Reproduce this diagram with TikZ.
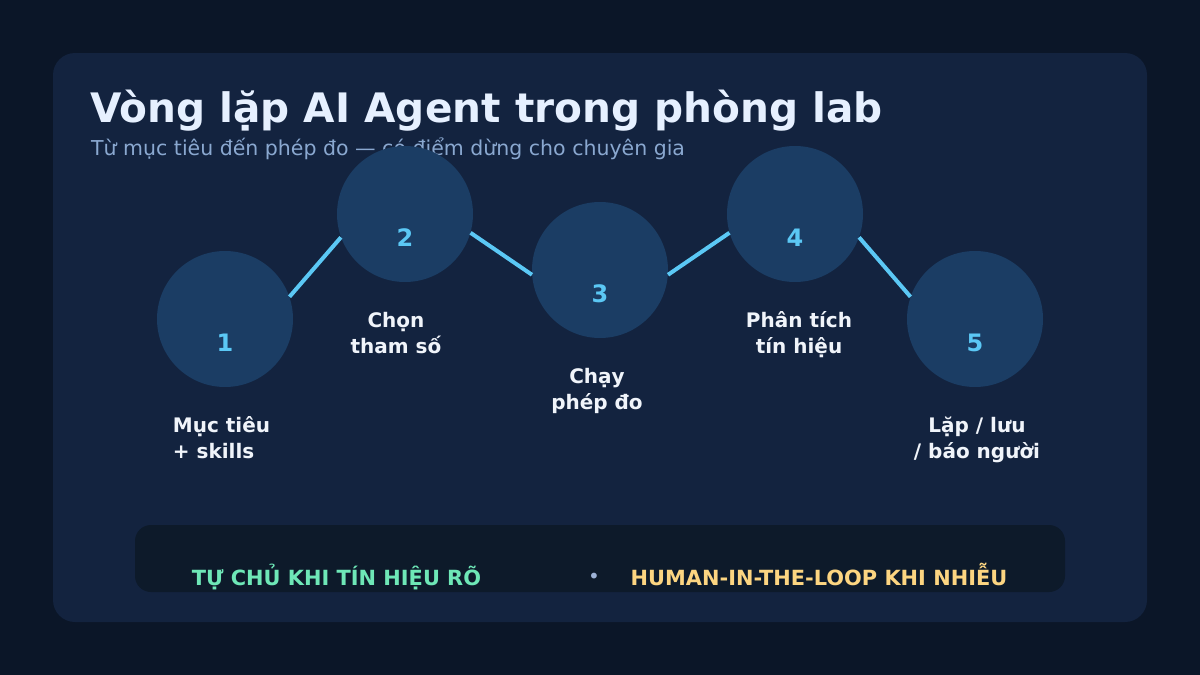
\documentclass[tikz,border=0pt]{standalone}
\usepackage{fontspec}
\setmainfont{DejaVu Sans}
\usetikzlibrary{positioning,calc}
\definecolor{bgD}{HTML}{0B1628}
\definecolor{panel}{HTML}{13233F}
\definecolor{circ}{HTML}{1B3D64}
\definecolor{cyanL}{HTML}{5BC8F5}
\definecolor{ttl}{HTML}{E6F0FF}
\definecolor{subt}{HTML}{8AA8D0}
\definecolor{labW}{HTML}{F0F4FA}
\definecolor{barD}{HTML}{0D1A2A}
\definecolor{grnT}{HTML}{6EE7B7}
\definecolor{ylwT}{HTML}{FCD581}
\definecolor{dotC}{HTML}{9DB2D6}
\tikzset{
  stepc/.style ={circle, fill=circ, minimum size=136pt, inner sep=0pt},
  num/.style   ={font=\bfseries\fontsize{24}{28}\selectfont, text=cyanL, inner sep=0pt},
  lbl/.style   ={font=\bfseries\fontsize{20}{26}\selectfont, text=labW, align=center, inner sep=0pt},
  link/.style  ={draw=cyanL, line width=4pt},
  tag/.style   ={font=\bfseries\fontsize{20.9}{24}\selectfont, anchor=base, inner sep=0pt},
}
\begin{document}
\begin{tikzpicture}[x=1pt,y=-1pt]
  \fill[bgD] (0,0) rectangle (1200,675);
  \useasboundingbox (0,0) rectangle (1200,675);
  \node[fill=panel, rounded corners=22pt, minimum width=1094pt, minimum height=569pt, inner sep=0pt] (pan) at (600,337.5) {};
  \node[anchor=base west, inner sep=0pt, text=ttl, font=\bfseries\fontsize{40.6}{46}\selectfont] (title) at (90,122) {Vòng lặp AI Agent trong phòng lab};
  \node[anchor=base west, inner sep=0pt, text=subt, font=\fontsize{20.5}{24}\selectfont] (sub) at (91,155) {Từ mục tiêu đến phép đo — có điểm dừng cho chuyên gia};
  % steps
  \foreach \i/\x/\y in {1/225/319, 2/405/214, 3/600/270, 4/795/214, 5/975/319} {
    \node[stepc] (c\i) at (\x,\y) {};
    \node[num] (n\i) at ($(c\i)+(0,24)$) {\i};
  }
  \draw[link] (c1.19) -- (c2.200);
  \draw[link] (c2.-16) -- (c3.184);
  \draw[link] (c3.-4) -- (c4.196);
  \draw[link] (c4.-20) -- (c5.161);
  \node[lbl, align=left] (l1) at ($(c1)+(-3.5,119)$) {Mục tiêu\\+ skills};
  \node[lbl] (l2) at ($(c2)+(-9,119)$) {Chọn\\tham số};
  \node[lbl] (l3) at ($(c3)+(-3,121)$) {Chạy\\phép đo};
  \node[lbl] (l4) at ($(c4)+(4,121)$) {Phân tích\\tín hiệu};
  \node[lbl] (l5) at ($(c5)+(2,121)$) {Lặp / lưu\\/ báo người};
  % bottom bar
  \node[fill=barD, rounded corners=16pt, minimum width=930pt, minimum height=67pt, inner sep=0pt] (bar) at (600,558.5) {};
  \node[tag, text=grnT] (auto) at (336.5,585) {TỰ CHỦ KHI TÍN HIỆU RÕ};
  \node[text=dotC, inner sep=0pt, font=\fontsize{20}{22}\selectfont] (sep) at (594,578.5) {•};
  \node[tag, text=ylwT] (hitl) at (819,585) {HUMAN-IN-THE-LOOP KHI NHIỄU};
\end{tikzpicture}
\end{document}
